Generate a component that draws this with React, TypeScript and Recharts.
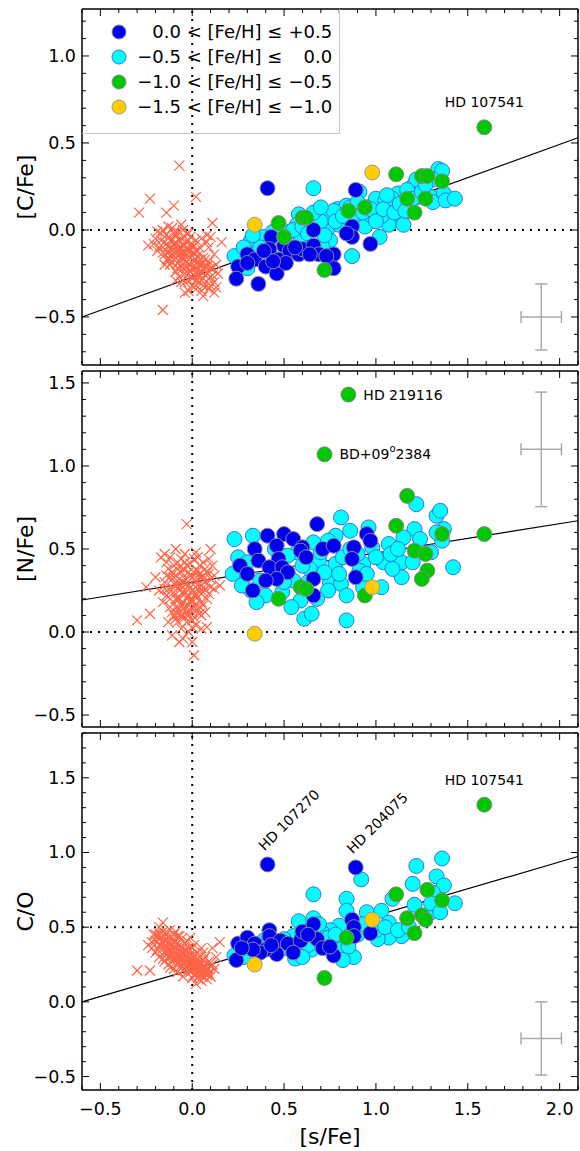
import React from 'react';
import { ScatterChart, Scatter, XAxis, YAxis, ReferenceLine, ErrorBar, Legend, Label } from 'recharts';

const FONT = '"DejaVu Sans", Verdana, sans-serif';

// ---------- data ----------
const xDomain: [number, number] = [-0.6, 2.1];

// [C/Fe] panel
const cFeField = [
  [-0.07, 0.37], [0.02, 0.19], [-0.23, 0.18], [-0.29, 0.1], [-0.16, -0.46], [0.11, 0.04], [-0.1, 0.14],
  [-0.14, 0.1], [0.16, -0.07], [0.13, -0.33], [-0.24, -0.09], [0.08, -0.03],
  [-0.2, -0.05], [-0.18, -0.1], [-0.17, -0.02], [-0.16, -0.13], [-0.15, -0.07], [-0.14, -0.17], [-0.13, -0.04],
  [-0.12, -0.11], [-0.12, -0.2], [-0.11, 0.01], [-0.1, -0.08], [-0.1, -0.15], [-0.09, -0.24], [-0.09, -0.03],
  [-0.08, -0.12], [-0.08, -0.19], [-0.07, -0.06], [-0.07, -0.27], [-0.06, -0.1], [-0.06, -0.16], [-0.05, 0.0],
  [-0.05, -0.22], [-0.04, -0.13], [-0.04, -0.3], [-0.03, -0.07], [-0.03, -0.18], [-0.02, -0.25], [-0.02, -0.11],
  [-0.01, -0.2], [-0.01, -0.04], [0.0, -0.15], [0.0, -0.28], [0.01, -0.09], [0.01, -0.33], [0.02, -0.22],
  [0.02, -0.17], [0.03, -0.26], [0.03, -0.12], [0.04, -0.3], [0.04, -0.2], [0.05, -0.24], [0.05, -0.35],
  [0.06, -0.16], [0.06, -0.28], [0.07, -0.21], [0.08, -0.32], [0.08, -0.25], [0.09, -0.18], [0.1, -0.27],
  [0.11, -0.22], [0.12, -0.3], [-0.13, -0.09], [-0.11, -0.14], [-0.09, -0.1], [-0.07, -0.14], [-0.05, -0.09],
  [-0.03, -0.14], [-0.01, -0.12], [0.01, -0.18], [0.03, -0.19], [-0.19, -0.12], [-0.06, 0.03], [-0.02, -0.35],
  [0.06, -0.38], [-0.15, -0.2], [0.09, -0.1], [0.13, -0.2],
  [-0.14, -0.03], [-0.13, -0.13], [-0.12, -0.06], [-0.11, -0.18], [-0.1, -0.02], [-0.1, -0.11], [-0.09, -0.16],
  [-0.09, -0.07], [-0.08, -0.01], [-0.08, -0.22], [-0.07, -0.1], [-0.07, -0.18], [-0.06, -0.05], [-0.06, -0.21],
  [-0.05, -0.13], [-0.05, -0.17], [-0.04, -0.04], [-0.04, -0.09], [-0.04, -0.25], [-0.03, -0.11], [-0.03, -0.21],
  [-0.02, -0.02], [-0.02, -0.15], [-0.02, -0.29], [-0.01, -0.08], [-0.01, -0.16], [-0.01, -0.24], [0.0, -0.1],
  [0.0, -0.19], [0.0, -0.22], [0.01, -0.13], [0.01, -0.26], [0.02, -0.06], [0.02, -0.29], [0.03, -0.15],
  [0.03, -0.23], [0.04, -0.17], [0.04, -0.26], [0.05, -0.2], [0.05, -0.29], [0.06, -0.22], [0.06, -0.32],
  [0.07, -0.26], [0.07, -0.17], [0.08, -0.21], [0.09, -0.28], [0.1, -0.22], [0.1, -0.32], [-0.16, -0.1],
  [-0.12, -0.15], [-0.11, -0.06], [-0.08, -0.15], [-0.06, -0.13], [-0.03, -0.02], [0.02, -0.12], [0.04, -0.1],
  [-0.13, -0.17], [-0.17, -0.06], [0.11, -0.26], [0.09, -0.34], [0.03, -0.33], [0.0, -0.32],
  [-0.19, -0.01], [-0.21, -0.08], [-0.16, 0.0], [-0.13, 0.02], [0.05, -0.05], [0.08, -0.07], [0.12, -0.14],
  [0.14, -0.25], [-0.06, -0.3], [-0.09, -0.29], [0.12, -0.36], [-0.04, -0.36], [0.1, -0.04], [-0.15, -0.14],
];
const cFeBlue = [
  [0.41, 0.24], [0.89, 0.23], [0.66, 0.0], [0.87, 0.02], [0.87, -0.04], [0.97, -0.08], [0.43, -0.04],
  [0.3, -0.14], [0.25, -0.21], [0.24, -0.28], [0.36, -0.31], [0.34, -0.17], [0.4, -0.21], [0.46, -0.25],
  [0.42, -0.11], [0.47, -0.17], [0.5, -0.09], [0.53, -0.12], [0.58, -0.14], [0.6, -0.11], [0.66, -0.09],
  [0.69, -0.14], [0.77, -0.14], [0.77, -0.22], [0.64, -0.14], [0.51, -0.19], [0.44, -0.18], [0.39, -0.12],
  [0.3, -0.19], [0.56, -0.1], [0.73, -0.15], [0.84, -0.02],
];
const cFeCyan = [
  [0.66, 0.24], [0.23, -0.15], [0.3, -0.22], [0.32, -0.06], [0.39, -0.04], [0.44, -0.01], [0.53, -0.01],
  [0.58, 0.09], [0.57, 0.03], [0.65, 0.06], [0.68, 0.03], [0.73, 0.08], [0.74, 0.01], [0.79, 0.12],
  [0.84, 0.14], [0.8, 0.03], [0.75, -0.06], [0.71, -0.1], [0.62, -0.06], [0.87, -0.15], [0.91, 0.22],
  [0.9, 0.07], [0.94, 0.02], [1.0, 0.18], [1.05, 0.17], [1.02, -0.04], [1.07, 0.03], [1.03, 0.08],
  [1.08, 0.13], [1.12, 0.21], [1.14, 0.08], [1.15, 0.03], [1.18, 0.16], [1.2, 0.25], [1.22, 0.29],
  [1.23, 0.19], [1.3, 0.19], [1.31, 0.16], [1.34, 0.35], [1.36, 0.34], [1.37, 0.21], [1.38, 0.17],
  [1.43, 0.18], [1.31, 0.29], [0.95, 0.13], [0.98, 0.08], [0.88, 0.09], [0.77, 0.11], [0.5, -0.05],
  [0.59, -0.04], [0.48, -0.12], [1.09, 0.18], [1.17, 0.23],
  [0.55, 0.0], [0.6, 0.02], [0.63, -0.02], [0.7, 0.05], [0.72, -0.03], [0.78, 0.05], [0.82, 0.08],
  [0.86, 0.13], [0.9, 0.16], [0.93, 0.1], [0.97, 0.12], [1.0, 0.05], [1.04, 0.12], [1.06, 0.2],
  [1.1, 0.1], [1.13, 0.15], [1.16, 0.11], [1.2, 0.18], [1.25, 0.22], [1.27, 0.26], [0.45, -0.07],
  [0.37, -0.1], [0.33, -0.03], [0.28, -0.1], [0.66, 0.1], [0.7, 0.13],
];
const cFeGreen = [
  [1.59, 0.59], [1.11, 0.32], [1.25, 0.31], [1.28, 0.31], [1.36, 0.28], [1.17, 0.18], [1.27, 0.18],
  [1.21, 0.1], [0.94, 0.13], [0.85, 0.11], [0.47, 0.04], [0.5, -0.04], [0.6, 0.07], [0.62, 0.07], [0.72, -0.23],
];
const cFeYellow = [[0.98, 0.33], [0.34, 0.03]];
const cFeFit = [{ x: -0.6, y: -0.5 }, { x: 2.1, y: 0.53 }];
const cFeErr = [{ x: 1.9, y: -0.5, ex: 0.11, ey: 0.19 }];
const cFeNotes = [{ x: 1.59, y: 0.59, text: 'HD 107541' }];

// [N/Fe] panel
const nFeField = [
  [-0.03, 0.65], [0.1, 0.5], [0.02, 0.48], [-0.17, 0.45], [-0.15, 0.47], [-0.3, 0.07], [-0.23, 0.11],
  [0.01, -0.14], [0.08, 0.03], [-0.07, -0.06], [0.15, 0.28], [-0.25, 0.27],
  [-0.15, 0.3], [-0.14, 0.22], [-0.13, 0.38], [-0.12, 0.15], [-0.11, 0.27], [-0.1, 0.33], [-0.1, 0.1],
  [-0.09, 0.2], [-0.08, 0.42], [-0.08, 0.06], [-0.07, 0.25], [-0.07, 0.14], [-0.06, 0.36], [-0.06, 0.02],
  [-0.05, 0.18], [-0.05, 0.3], [-0.04, 0.09], [-0.04, 0.23], [-0.03, 0.4], [-0.03, 0.12], [-0.02, 0.28],
  [-0.02, 0.0], [-0.01, 0.19], [-0.01, 0.34], [0.0, 0.07], [0.0, 0.25], [0.01, 0.44], [0.01, 0.15],
  [0.02, 0.3], [0.02, 0.04], [0.03, 0.21], [0.03, 0.37], [0.04, 0.11], [0.04, 0.27], [0.05, 0.33],
  [0.05, 0.18], [0.06, 0.42], [0.06, 0.24], [0.07, 0.3], [0.08, 0.36], [0.08, 0.2], [0.1, 0.32],
  [0.11, 0.4], [-0.12, 0.45], [-0.09, 0.5], [-0.04, 0.47], [-0.16, 0.18], [-0.13, 0.06], [-0.11, -0.02],
  [-0.05, -0.04], [0.0, -0.06], [0.05, 0.02], [-0.18, 0.25], [-0.2, 0.33], [0.12, 0.26], [-0.02, 0.16],
  [-0.07, 0.32], [0.02, 0.23], [-0.09, 0.28], [0.04, 0.35], [-0.14, 0.42], [0.07, 0.12], [-0.06, 0.1],
  [0.09, 0.44],
  [-0.13, 0.26], [-0.12, 0.33], [-0.12, 0.2], [-0.11, 0.36], [-0.11, 0.12], [-0.1, 0.24], [-0.1, 0.4],
  [-0.09, 0.15], [-0.09, 0.34], [-0.08, 0.29], [-0.08, 0.11], [-0.08, 0.2], [-0.07, 0.39], [-0.07, 0.2],
  [-0.06, 0.28], [-0.06, 0.16], [-0.05, 0.24], [-0.05, 0.38], [-0.05, 0.1], [-0.04, 0.32], [-0.04, 0.15],
  [-0.04, 0.42], [-0.03, 0.2], [-0.03, 0.29], [-0.03, 0.06], [-0.02, 0.36], [-0.02, 0.22], [-0.02, 0.1],
  [-0.01, 0.27], [-0.01, 0.13], [-0.01, 0.41], [0.0, 0.19], [0.0, 0.33], [0.0, 0.14], [0.01, 0.22],
  [0.01, 0.36], [0.01, 0.09], [0.02, 0.27], [0.02, 0.17], [0.03, 0.32], [0.03, 0.14], [0.04, 0.24],
  [0.04, 0.4], [0.05, 0.28], [0.05, 0.1], [0.06, 0.34], [0.06, 0.16], [0.07, 0.26], [0.07, 0.38],
  [0.08, 0.29], [0.09, 0.23], [0.09, 0.35], [0.1, 0.27], [-0.14, 0.34], [-0.06, 0.44], [0.03, 0.45],
  [-0.09, 0.08], [0.0, 0.03], [-0.15, 0.26], [0.12, 0.34],
];
const nFeBlue = [
  [0.68, 0.65], [0.41, 0.58], [0.5, 0.59], [0.55, 0.56], [0.46, 0.52], [0.34, 0.5], [0.6, 0.51],
  [0.59, 0.49], [0.71, 0.5], [0.77, 0.52], [0.88, 0.51], [0.95, 0.59], [0.97, 0.55], [0.47, 0.44],
  [0.36, 0.43], [0.87, 0.44], [0.26, 0.4], [0.42, 0.39], [0.49, 0.39], [0.3, 0.35], [0.52, 0.36],
  [0.46, 0.32], [0.4, 0.31], [0.66, 0.32], [0.89, 0.33], [0.33, 0.25], [0.66, 0.22], [0.62, 0.45],
];
const nFeCyan = [
  [0.23, 0.56], [0.33, 0.58], [0.81, 0.69], [0.86, 0.61], [0.96, 0.63], [1.21, 0.62], [1.22, 0.77],
  [1.33, 0.7], [1.35, 0.73], [1.37, 0.62], [1.36, 0.55], [1.42, 0.39], [1.15, 0.57], [1.07, 0.53],
  [1.04, 0.42], [1.14, 0.42], [1.14, 0.33], [1.09, 0.38], [1.3, 0.48], [0.78, 0.58], [0.66, 0.54],
  [0.57, 0.48], [0.69, 0.43], [0.78, 0.41], [0.93, 0.41], [0.98, 0.51], [0.25, 0.45], [0.28, 0.33],
  [0.32, 0.25], [0.4, 0.22], [0.49, 0.24], [0.55, 0.31], [0.59, 0.19], [0.54, 0.15], [0.61, 0.08],
  [0.65, 0.11], [0.84, 0.07], [0.75, 0.3], [0.81, 0.29], [0.84, 0.22], [0.74, 0.25], [0.93, 0.27],
  [1.03, 0.27], [0.91, 0.37], [0.64, 0.38], [0.72, 0.36], [0.37, 0.31], [0.22, 0.35],
  [0.45, 0.5], [0.52, 0.46], [0.6, 0.4], [0.7, 0.48], [0.74, 0.55], [0.82, 0.45], [0.86, 0.5],
  [0.9, 0.47], [1.0, 0.45], [1.08, 0.47], [1.12, 0.5], [0.63, 0.3], [0.68, 0.2], [0.5, 0.3],
  [0.44, 0.36], [0.3, 0.42], [0.27, 0.28], [0.35, 0.18], [0.8, 0.35], [0.95, 0.35], [1.2, 0.42],
  [1.24, 0.56], [1.33, 0.6],
];
const nFeGreen = [
  [0.85, 1.43], [0.72, 1.07], [1.17, 0.82], [1.11, 0.64], [1.36, 0.59], [1.59, 0.59], [1.21, 0.49],
  [1.27, 0.47], [1.28, 0.37], [1.25, 0.32], [0.94, 0.22], [0.47, 0.2], [0.59, 0.27], [0.62, 0.26],
];
const nFeYellow = [[0.98, 0.27], [0.34, -0.01]];
const nFeFit = [{ x: -0.6, y: 0.193 }, { x: 2.1, y: 0.67 }];
const nFeErr = [{ x: 1.9, y: 1.1, ex: 0.11, ey: 0.345 }];
const nFeNotes = [
  { x: 0.85, y: 1.43, text: 'HD 219116' },
  { x: 0.72, y: 1.07, text: 'BD+09°2384' },
];

// C/O panel
const coField = [
  [-0.16, 0.53], [-0.3, 0.21], [-0.23, 0.21], [0.15, 0.4], [0.11, 0.36], [-0.21, 0.45],
  [-0.22, 0.4], [-0.2, 0.45], [-0.19, 0.35], [-0.18, 0.42], [-0.17, 0.38], [-0.16, 0.47], [-0.15, 0.33],
  [-0.15, 0.41], [-0.14, 0.37], [-0.13, 0.44], [-0.13, 0.3], [-0.12, 0.39], [-0.11, 0.34], [-0.11, 0.42],
  [-0.1, 0.28], [-0.1, 0.37], [-0.09, 0.32], [-0.09, 0.4], [-0.08, 0.35], [-0.08, 0.26], [-0.07, 0.3],
  [-0.07, 0.38], [-0.06, 0.33], [-0.06, 0.24], [-0.05, 0.29], [-0.05, 0.36], [-0.04, 0.31], [-0.04, 0.22],
  [-0.03, 0.27], [-0.03, 0.34], [-0.02, 0.25], [-0.02, 0.3], [-0.01, 0.2], [-0.01, 0.28], [0.0, 0.24],
  [0.0, 0.31], [0.01, 0.18], [0.01, 0.27], [0.02, 0.22], [0.03, 0.26], [0.03, 0.16], [0.04, 0.21],
  [0.05, 0.25], [0.05, 0.14], [0.06, 0.2], [0.07, 0.23], [0.08, 0.18], [0.09, 0.22], [0.1, 0.17],
  [0.11, 0.25], [-0.12, 0.48], [-0.08, 0.44], [-0.04, 0.39], [0.0, 0.36], [-0.16, 0.29], [-0.12, 0.23],
  [-0.05, 0.17], [0.02, 0.12], [0.07, 0.3], [-0.18, 0.5],
  [-0.2, 0.41], [-0.19, 0.44], [-0.18, 0.38], [-0.17, 0.43], [-0.16, 0.36], [-0.16, 0.4], [-0.15, 0.44],
  [-0.15, 0.37], [-0.14, 0.41], [-0.14, 0.33], [-0.13, 0.36], [-0.13, 0.4], [-0.12, 0.34], [-0.12, 0.3],
  [-0.11, 0.38], [-0.11, 0.31], [-0.1, 0.35], [-0.1, 0.4], [-0.09, 0.29], [-0.09, 0.36], [-0.08, 0.32],
  [-0.08, 0.39], [-0.07, 0.27], [-0.07, 0.34], [-0.06, 0.3], [-0.06, 0.37], [-0.05, 0.26], [-0.05, 0.33],
  [-0.04, 0.28], [-0.04, 0.35], [-0.03, 0.24], [-0.03, 0.31], [-0.02, 0.28], [-0.02, 0.22], [-0.01, 0.25],
  [-0.01, 0.32], [0.0, 0.21], [0.0, 0.28], [0.01, 0.24], [0.01, 0.3], [0.02, 0.19], [0.02, 0.26],
  [0.03, 0.22], [0.03, 0.29], [0.04, 0.18], [0.04, 0.25], [0.05, 0.21], [0.06, 0.24], [0.06, 0.17],
  [0.07, 0.2], [0.08, 0.22], [0.08, 0.15], [0.09, 0.19], [-0.18, 0.46], [-0.14, 0.47], [-0.1, 0.45],
  [-0.06, 0.42], [-0.02, 0.36], [0.03, 0.33], [0.06, 0.28],
  [-0.15, 0.27], [-0.13, 0.25], [-0.1, 0.22], [-0.08, 0.2], [-0.05, 0.21], [-0.2, 0.33], [-0.18, 0.3],
  [0.0, 0.16], [0.04, 0.3], [0.06, 0.33], [0.09, 0.27], [0.1, 0.24], [-0.03, 0.41], [-0.07, 0.44],
  [0.01, 0.38], [-0.11, 0.27], [-0.14, 0.29], [0.05, 0.36], [-0.01, 0.43], [-0.09, 0.47], [0.12, 0.22],
  [0.13, 0.3], [-0.24, 0.38], [-0.22, 0.36],
];
const coBlue = [
  [0.41, 0.92], [0.89, 0.9], [0.25, 0.39], [0.24, 0.28], [0.3, 0.43], [0.34, 0.39], [0.42, 0.48],
  [0.42, 0.44], [0.48, 0.41], [0.46, 0.32], [0.4, 0.35], [0.52, 0.39], [0.59, 0.41], [0.6, 0.47],
  [0.66, 0.52], [0.68, 0.42], [0.71, 0.36], [0.77, 0.31], [0.87, 0.55], [0.88, 0.5], [0.88, 0.44],
  [0.97, 0.46], [0.37, 0.33], [0.33, 0.35], [0.27, 0.36], [0.43, 0.38], [0.55, 0.33], [0.63, 0.45],
  [0.75, 0.37],
];
const coCyan = [
  [0.92, 0.82], [1.22, 0.91], [1.36, 0.96], [1.33, 0.84], [1.2, 0.79], [0.66, 0.72], [0.84, 0.69],
  [1.37, 0.78], [1.43, 0.66], [1.31, 0.73], [1.09, 0.69], [0.84, 0.61], [0.95, 0.6], [1.03, 0.61],
  [1.21, 0.65], [1.3, 0.6], [1.07, 0.53], [1.14, 0.44], [1.07, 0.43], [1.01, 0.42], [0.88, 0.3],
  [0.8, 0.51], [0.82, 0.4], [0.75, 0.48], [0.58, 0.54], [0.66, 0.56], [0.65, 0.35], [0.56, 0.29],
  [0.71, 0.46], [0.5, 0.36], [0.23, 0.31], [0.3, 0.35], [0.39, 0.41], [0.55, 0.44], [0.69, 0.52],
  [0.95, 0.51], [0.28, 0.3], [0.35, 0.38], [0.45, 0.38], [0.5, 0.42], [0.55, 0.37], [0.6, 0.44],
  [0.63, 0.38], [0.7, 0.4], [0.74, 0.43], [0.78, 0.45], [0.8, 0.35], [0.85, 0.37], [0.9, 0.45],
  [0.93, 0.52], [1.0, 0.48], [1.05, 0.5], [1.12, 0.48], [1.18, 0.5], [1.3, 0.66], [1.35, 0.6],
  [0.6, 0.3], [0.82, 0.28],
];
const coGreen = [
  [1.59, 1.32], [0.72, 0.16], [1.11, 0.72], [1.28, 0.75], [1.36, 0.68], [1.17, 0.56], [1.25, 0.58],
  [1.27, 0.55], [1.21, 0.46], [0.84, 0.43],
];
const coYellow = [[0.98, 0.55], [0.34, 0.25]];
const coFit = [{ x: -0.6, y: 0.0 }, { x: 2.1, y: 0.973 }];
const coErr = [{ x: 1.9, y: -0.245, ex: 0.11, ey: 0.245 }];
const coNotes = [
  { x: 1.59, y: 1.32, text: 'HD 107541' },
  { x: 0.41, y: 0.92, text: 'HD 107270' },
  { x: 0.89, y: 0.9, text: 'HD 204075' },
];

const legendLo = ['0.0', '\u22120.5', '\u22121.0', '\u22121.5'];
const legendHi = ['+0.5', '0.0', '\u22120.5', '\u22121.0'];

// ---------- styles ----------
const BLUE = { fill: '#0000ee', edge: '#8a8a9a' };
const CYAN = { fill: '#00ffff', edge: '#3a72dc' };
const GREEN = { fill: '#00c800', edge: '#8a8a8a' };
const YELLOW = { fill: '#ffcc00', edge: '#9a9a9a' };
const groupStyle = [BLUE, CYAN, GREEN, YELLOW];
const noteStyle: Record<string, string> = {
  'HD 107541': 'above',
  'HD 219116': 'right',
  'BD+09°2384': 'right',
  'HD 107270': 'diag',
  'HD 204075': 'diag',
};
const AXIS = { stroke: '#000', strokeWidth: 1.5 };

const toPts = (a: number[][]) => a.map(([x, y]) => ({ x, y }));
const ticksIn = (lo: number, hi: number) => {
  const out: number[] = [];
  for (let i = Math.ceil(lo * 10 - 1e-9); i <= Math.floor(hi * 10 + 1e-9); i++) out.push(i / 10);
  return out;
};
const xTicks = ticksIn(xDomain[0], xDomain[1]);
const isMajor = (v: number) => Math.abs(v * 2 - Math.round(v * 2)) < 1e-6;
const fmt = (v: number) => (v < -1e-9 ? '\u2212' + Math.abs(v).toFixed(1) : Math.abs(v).toFixed(1));

const makeTick = (side: string, showLabel: boolean) => (props: any) => {
  const { x, y, payload } = props;
  const v = payload.value;
  const len = isMajor(v) ? 7 : 4;
  let l = { x1: x, y1: y, x2: x, y2: y };
  if (side === 'left') l = { ...l, x2: x + len };
  if (side === 'right') l = { ...l, x2: x - len };
  if (side === 'top') l = { ...l, y2: y + len };
  if (side === 'bottom') l = { ...l, y2: y - len };
  const lbl = showLabel && isMajor(v);
  return (
    <g>
      <line {...l} stroke="#000" strokeWidth={1} />
      {lbl && side === 'left' && (
        <text x={x - 6} y={y + 6} textAnchor="end" fontSize={17.5} fontFamily={FONT} fill="#000">{fmt(v)}</text>
      )}
      {lbl && side === 'bottom' && (
        <text x={x} y={y + 25} textAnchor="middle" fontSize={17.5} fontFamily={FONT} fill="#000">{fmt(v)}</text>
      )}
    </g>
  );
};

const Cross = (p: any) => (
  <g stroke="#ff6347" strokeWidth={1.15}>
    <line x1={p.cx - 5} y1={p.cy - 5} x2={p.cx + 5} y2={p.cy + 5} />
    <line x1={p.cx - 5} y1={p.cy + 5} x2={p.cx + 5} y2={p.cy - 5} />
  </g>
);
const dot = (s: { fill: string; edge: string }) => (p: any) => (
  <circle cx={p.cx} cy={p.cy} r={7.5} fill={s.fill} stroke={s.edge} strokeWidth={1} />
);

const NoteShape = (p: any) => {
  const { cx, cy, payload } = p;
  const text: string = payload.text;
  const place = noteStyle[text];
  const common = { fontSize: 14, fontFamily: FONT, fill: '#000' };
  if (place === 'above') {
    return <text x={cx} y={cy - 20} textAnchor="middle" {...common}>{text}</text>;
  }
  if (place === 'diag') {
    const tx = cx - 3;
    const ty = cy - 13;
    return <text x={tx} y={ty} transform={`rotate(-45 ${tx} ${ty})`} {...common}>{text}</text>;
  }
  const parts = text.split('°');
  return (
    <text x={cx + 15} y={cy + 5} {...common}>
      {parts[0]}
      {parts.length > 1 && (
        <>
          <tspan dy={-7} fontSize={10}>o</tspan>
          <tspan dy={7}>{parts[1]}</tspan>
        </>
      )}
    </text>
  );
};

const yLabelContent = (text: string) => (props: any) => {
  const vb = props.viewBox;
  const x = vb.x + 25;
  const y = vb.y + vb.height / 2;
  return (
    <text x={x} y={y} transform={`rotate(-90 ${x} ${y})`} textAnchor="middle" dominantBaseline="central"
      fontSize={22} fontFamily={FONT} fill="#000">{text}</text>
  );
};
const xLabelContent = (props: any) => {
  const vb = props.viewBox;
  return (
    <text x={vb.x + vb.width / 2} y={vb.y + 46} textAnchor="middle" dominantBaseline="central"
      fontSize={22} fontFamily={FONT} fill="#000">[s/Fe]</text>
  );
};

const LegendBox = () => (
  <div style={{ fontFamily: FONT, fontSize: 18, color: '#000', paddingTop: 10 }}>
    {legendLo.map((lo, i) => (
      <div key={i} style={{ display: 'flex', alignItems: 'center', height: 25 }}>
        <svg width={16} height={16} style={{ marginLeft: 29 }}>
          <circle cx={8} cy={8} r={7} fill={groupStyle[i].fill} stroke={groupStyle[i].edge} strokeWidth={1} />
        </svg>
        <span style={{ width: 54, textAlign: 'right' }}>{lo}</span>
        <span style={{ whiteSpace: 'pre' }}>{' < [Fe/H] \u2264 '}</span>
        <span style={{ width: 44, textAlign: 'right' }}>{legendHi[i]}</span>
      </div>
    ))}
  </div>
);

interface PanelProps {
  top: number;
  height: number;
  marginTop: number;
  marginBottom: number;
  xAxisHeight: number;
  showX: boolean;
  yDomain: [number, number];
  yLabel: string;
  level: number;
  field: number[][];
  blue: number[][];
  cyan: number[][];
  green: number[][];
  yellow: number[][];
  fit: { x: number; y: number }[];
  err: { x: number; y: number; ex: number; ey: number }[];
  notes: { x: number; y: number; text: string }[];
  legend?: boolean;
}

function Panel(p: PanelProps) {
  const yTicks = ticksIn(p.yDomain[0], p.yDomain[1]);
  return (
    <div style={{ position: 'absolute', left: 0, top: p.top }}>
      <ScatterChart width={580} height={p.height} margin={{ top: p.marginTop, right: 1, bottom: p.marginBottom, left: 0 }}>
        <XAxis type="number" dataKey="x" domain={xDomain} allowDataOverflow ticks={xTicks} interval={0}
          tickSize={0} tickMargin={0} tickLine={false} axisLine={AXIS} height={p.xAxisHeight}
          tick={makeTick('bottom', p.showX)} label={p.showX ? <Label content={xLabelContent} /> : undefined} />
        <XAxis xAxisId="top" orientation="top" type="number" dataKey="x" domain={xDomain} allowDataOverflow
          ticks={xTicks} interval={0} tickSize={0} tickMargin={0} tickLine={false} axisLine={AXIS} height={1}
          tick={makeTick('top', false)} />
        <YAxis type="number" dataKey="y" domain={p.yDomain} allowDataOverflow ticks={yTicks} interval={0}
          tickSize={0} tickMargin={0} tickLine={false} axisLine={AXIS} width={82}
          tick={makeTick('left', true)} label={<Label content={yLabelContent(p.yLabel)} />} />
        <YAxis yAxisId="right" orientation="right" type="number" dataKey="y" domain={p.yDomain} allowDataOverflow
          ticks={yTicks} interval={0} tickSize={0} tickMargin={0} tickLine={false} axisLine={AXIS} width={1}
          tick={makeTick('right', false)} />
        <Scatter data={toPts(p.field)} shape={Cross} isAnimationActive={false} />
        <ReferenceLine x={0} stroke="#000" strokeWidth={2} strokeDasharray="2 6" />
        <ReferenceLine y={p.level} stroke="#000" strokeWidth={2} strokeDasharray="2 6" />
        <Scatter data={toPts(p.cyan)} shape={dot(CYAN)} isAnimationActive={false} />
        <Scatter data={toPts(p.blue)} shape={dot(BLUE)} isAnimationActive={false} />
        <Scatter data={toPts(p.green)} shape={dot(GREEN)} isAnimationActive={false} />
        <Scatter data={toPts(p.yellow)} shape={dot(YELLOW)} isAnimationActive={false} />
        <ReferenceLine segment={p.fit} stroke="#000" strokeWidth={1.2} />
        <Scatter data={p.err} shape={() => <g />} isAnimationActive={false}>
          <ErrorBar dataKey="ex" direction="x" width={6} stroke="#aaaaaa" strokeWidth={1.5} isAnimationActive={false} />
          <ErrorBar dataKey="ey" direction="y" width={6} stroke="#aaaaaa" strokeWidth={1.5} isAnimationActive={false} />
        </Scatter>
        <Scatter data={p.notes} shape={NoteShape} isAnimationActive={false} />
        {p.legend && (
          <Legend layout="vertical" align="center" verticalAlign="middle" content={LegendBox}
            wrapperStyle={{
              left: 82, top: 9, width: 258, height: 125, boxSizing: 'border-box',
              borderRight: '1.5px solid #c4c4c4', borderBottom: '1.5px solid #c4c4c4', background: 'transparent',
            }} />
        )}
      </ScatterChart>
    </div>
  );
}

export default function App() {
  return (
    <div style={{ position: 'absolute', left: 0, top: 0, width: 580, height: 1151, background: '#fff' }}>
      <Panel top={0} height={368} marginTop={8} marginBottom={2} xAxisHeight={1} showX={false}
        yDomain={[-0.776, 1.27]} yLabel="[C/Fe]" level={0} field={cFeField} blue={cFeBlue} cyan={cFeCyan}
        green={cFeGreen} yellow={cFeYellow} fit={cFeFit} err={cFeErr} notes={cFeNotes} legend />
      <Panel top={368} height={362} marginTop={2} marginBottom={2} xAxisHeight={1} showX={false}
        yDomain={[-0.572, 1.572]} yLabel="[N/Fe]" level={0} field={nFeField} blue={nFeBlue} cyan={nFeCyan}
        green={nFeGreen} yellow={nFeYellow} fit={nFeFit} err={nFeErr} notes={nFeNotes} />
      <Panel top={730} height={421} marginTop={2} marginBottom={3} xAxisHeight={58} showX
        yDomain={[-0.59, 1.8]} yLabel="C/O" level={0.5} field={coField} blue={coBlue} cyan={coCyan}
        green={coGreen} yellow={coYellow} fit={coFit} err={coErr} notes={coNotes} />
    </div>
  );
}
